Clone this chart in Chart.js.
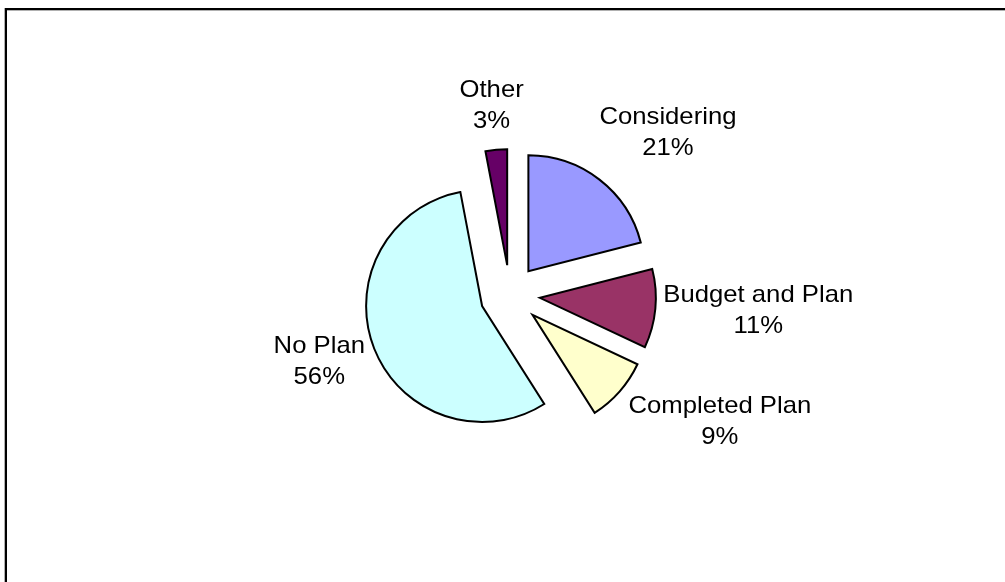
<!DOCTYPE html>
<html>
<head>
<meta charset="utf-8">
<script src="https://cdn.jsdelivr.net/npm/chart.js@4/dist/chart.umd.min.js"></script>
<style>
  html, body { margin: 0; padding: 0; background: #fff; }
  #wrap { position: relative; width: 1005px; height: 582px; }
</style>
</head>
<body>
<div id="wrap"><canvas id="planChart"></canvas></div>
<script>
// parts of the pie, clockwise from 12 o'clock
var categories = ['Considering', 'Budget and Plan', 'Completed Plan', 'No Plan', 'Other'];
var shares = [21, 11, 9, 56, 3];
var sliceColors = ['#9999FF', '#993366', '#FFFFCC', '#CCFFFF', '#660066'];

// distance (px) of each label from the edge of its slice
var labelGaps = [25, 8, 12, 10, 17];

var EXPLODE = 30;
var FONT = '24px "Liberation Sans", Arial, sans-serif';
var STRETCH = 1.07;
var LINE = 31;

// thin frame along the top and left edge
var framePlugin = {
    id: 'frame',
    beforeDraw: function(chart) {
        var ctx = chart.ctx;
        ctx.save();
        ctx.fillStyle = '#b0b0b0';
        ctx.fillRect(4, 8, 1, chart.height);
        ctx.fillRect(5, 10, chart.width, 1);
        ctx.fillStyle = '#000';
        ctx.fillRect(5, 8, chart.width, 2);
        ctx.fillRect(5, 8, 2, chart.height);
        ctx.restore();
    }
};

// pull every slice out from the centre along its middle angle
var explodePlugin = {
    id: 'explode',
    afterDatasetUpdate: function(chart, args) {
        args.meta.data.forEach(function(arc) {
            var mid = (arc.startAngle + arc.endAngle) / 2;
            arc.x += Math.cos(mid) * EXPLODE;
            arc.y += Math.sin(mid) * EXPLODE;
        });
    }
};

// "name / xx%" labels outside each slice
var labelPlugin = {
    id: 'sliceLabels',
    afterDatasetsDraw: function(chart) {
        var ctx = chart.ctx;
        var data = chart.data.datasets[0].data;
        var total = data.reduce(function(a, b) { return a + b; }, 0);
        var meta = chart.getDatasetMeta(0);
        ctx.save();
        ctx.font = FONT;
        ctx.fillStyle = '#000';
        ctx.textAlign = 'center';
        ctx.textBaseline = 'alphabetic';
        meta.data.forEach(function(arc, i) {
            var lines = [chart.data.labels[i], Math.round(data[i] / total * 100) + '%'];
            var w = Math.max.apply(null, lines.map(function(t) { return ctx.measureText(t).width * STRETCH; }));
            var h = LINE + 22;
            var mid = (arc.startAngle + arc.endAngle) / 2;
            var ux = Math.cos(mid), uy = Math.sin(mid);
            var r = arc.outerRadius + labelGaps[i];
            var ax = arc.x + ux * r, ay = arc.y + uy * r;
            var m = Math.max(Math.abs(ux), Math.abs(uy));
            var cx = ax + ux / m * w / 2;
            var cy = ay + uy / m * h / 2;
            var base = cy - h / 2 + 17;
            lines.forEach(function(t, k) {
                ctx.save();
                ctx.translate(cx, base + k * LINE);
                ctx.scale(STRETCH, 1);
                ctx.fillText(t, 0, 0);
                ctx.restore();
            });
        });
        ctx.restore();
    }
};

var ctx = document.getElementById('planChart').getContext('2d');
var chart = new Chart(ctx, {
    type: 'pie',
    data: {
        labels: categories,
        datasets: [{
            data: shares,
            backgroundColor: sliceColors,
            borderColor: '#000',
            borderWidth: 2,
            borderJoinStyle: 'miter'
        }]
    },
    options: {
        responsive: true,
        maintainAspectRatio: false,
        animation: false,
        radius: 116,
        layout: { padding: { left: 15, top: 8, right: 0, bottom: 0 } },
        plugins: {
            legend: { display: false },
            tooltip: { enabled: false }
        }
    },
    plugins: [framePlugin, explodePlugin, labelPlugin]
});
</script>
</body>
</html>
